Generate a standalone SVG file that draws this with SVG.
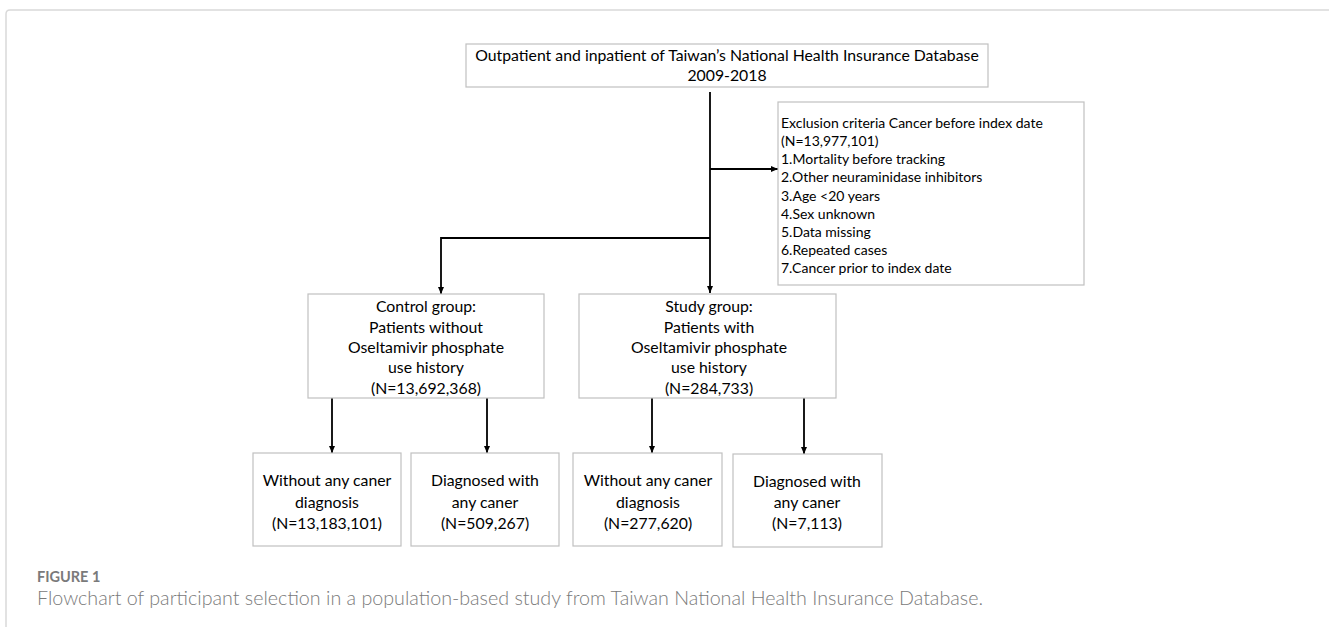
<svg xmlns="http://www.w3.org/2000/svg" width="1329" height="627" viewBox="0 0 1329 627">
<defs>
<marker id="ah" markerWidth="8" markerHeight="8" refX="7" refY="4" orient="auto" markerUnits="userSpaceOnUse">
<path d="M0,1 L7,4 L0,7 Z" fill="#000"/>
</marker>
<style>
.box{fill:#fff;stroke:#c0c0c0;stroke-width:1.2}
.t{font-family:Lato,"Open Sans","Liberation Sans",sans-serif;font-size:15.8px;fill:#000}
.c{text-anchor:middle}
.ex{font-size:14px}
.conn{fill:none;stroke:#000;stroke-width:1.8}
.cap{font-family:Lato,"Open Sans","Liberation Sans",sans-serif;fill:#7a7a7a}
</style>
</defs>
<rect width="1329" height="627" fill="#fff"/>
<path d="M6,627 V14 Q6,10 10,10 H1329" fill="none" stroke="#d9d9d9" stroke-width="1.5"/>

<g id="connectors">
<line class="conn" x1="710" y1="92" x2="710" y2="293" marker-end="url(#ah)"/>
<line class="conn" x1="710" y1="169" x2="778" y2="169" marker-end="url(#ah)"/>
<polyline class="conn" points="710,238 441,238 441,294" marker-end="url(#ah)"/>
<line class="conn" x1="332" y1="398" x2="332" y2="453" marker-end="url(#ah)"/>
<line class="conn" x1="487" y1="398" x2="487" y2="453" marker-end="url(#ah)"/>
<line class="conn" x1="652" y1="398" x2="652" y2="453" marker-end="url(#ah)"/>
<line class="conn" x1="804" y1="398" x2="804" y2="454" marker-end="url(#ah)"/>
</g>

<g id="source">
<rect class="box" x="466" y="44" width="522" height="43"/>
<text class="t c" x="727" y="61">Outpatient and inpatient of Taiwan’s National Health Insurance Database</text>
<text class="t c" x="727" y="81">2009-2018</text>
</g>

<g id="exclusion">
<rect class="box" x="778" y="102" width="306" height="183"/>
<text class="t ex" x="781" y="128">Exclusion criteria Cancer before index date</text>
<text class="t ex" x="781" y="146">(N=13,977,101)</text>
<text class="t ex" x="781" y="164">1.Mortality before tracking</text>
<text class="t ex" x="781" y="182">2.Other neuraminidase inhibitors</text>
<text class="t ex" x="781" y="201">3.Age &lt;20 years</text>
<text class="t ex" x="781" y="219">4.Sex unknown</text>
<text class="t ex" x="781" y="237">5.Data missing</text>
<text class="t ex" x="781" y="255">6.Repeated cases</text>
<text class="t ex" x="781" y="273">7.Cancer prior to index date</text>
</g>

<g id="control">
<rect class="box" x="308" y="294" width="236" height="104"/>
<text class="t c" x="426" y="312">Control group:</text>
<text class="t c" x="426" y="333">Patients without</text>
<text class="t c" x="426" y="353">Oseltamivir phosphate</text>
<text class="t c" x="426" y="373">use history</text>
<text class="t c" x="426" y="394">(N=13,692,368)</text>
</g>

<g id="study">
<rect class="box" x="579" y="294" width="257" height="104"/>
<text class="t c" x="709" y="312">Study group:</text>
<text class="t c" x="709" y="333">Patients with</text>
<text class="t c" x="709" y="353">Oseltamivir phosphate</text>
<text class="t c" x="709" y="373">use history</text>
<text class="t c" x="709" y="394">(N=284,733)</text>
</g>

<g id="control-nocancer">
<rect class="box" x="253" y="453" width="148" height="93"/>
<text class="t c" x="327" y="486">Without any caner</text>
<text class="t c" x="327" y="508">diagnosis</text>
<text class="t c" x="327" y="529">(N=13,183,101)</text>
</g>

<g id="control-cancer">
<rect class="box" x="411" y="453" width="148" height="93"/>
<text class="t c" x="485" y="486">Diagnosed with</text>
<text class="t c" x="485" y="508">any caner</text>
<text class="t c" x="485" y="529">(N=509,267)</text>
</g>

<g id="study-nocancer">
<rect class="box" x="573" y="453" width="149" height="93"/>
<text class="t c" x="648" y="486">Without any caner</text>
<text class="t c" x="648" y="508">diagnosis</text>
<text class="t c" x="648" y="529">(N=277,620)</text>
</g>

<g id="study-cancer">
<rect class="box" x="733" y="454" width="149" height="93"/>
<text class="t c" x="807" y="487">Diagnosed with</text>
<text class="t c" x="807" y="508">any caner</text>
<text class="t c" x="807" y="529">(N=7,113)</text>
</g>

<g id="caption">
<text class="cap" x="37" y="582" font-size="14.5" font-weight="bold">FIGURE 1</text>
<text class="cap" x="37" y="605" font-size="19" font-weight="300" textLength="946" lengthAdjust="spacingAndGlyphs">Flowchart of participant selection in a population-based study from Taiwan National Health Insurance Database.</text>
</g>
</svg>
